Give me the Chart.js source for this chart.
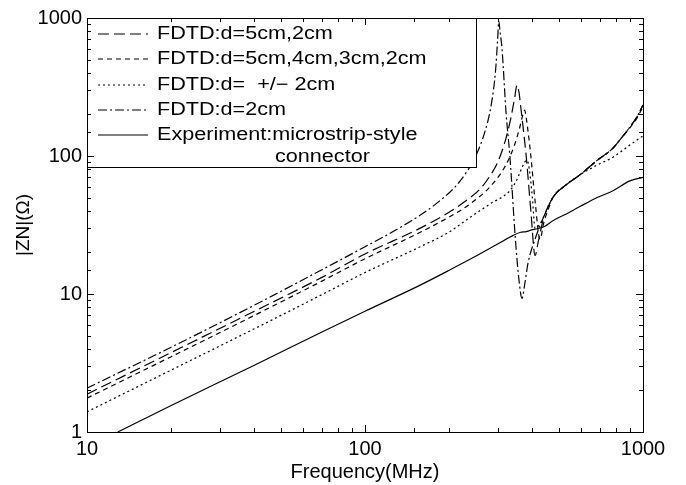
<!DOCTYPE html>
<html>
<head>
<meta charset="utf-8">
<script src="https://cdn.jsdelivr.net/npm/chart.js@4"></script>
<style>
  body { margin: 0; background: #fff; }
  #wrap { width: 686px; height: 485px; }
</style>
</head>
<body>
<div id="wrap"><canvas id="zChart"></canvas></div>
<script>
// d=2cm (dash-dot)
const freqDD = [10, 20, 40, 70, 100, 140, 180, 220, 250, 270, 285, 295, 300, 303, 306, 311, 322, 332, 347, 358, 367, 376, 386, 409, 444, 474, 530, 593, 684, 780, 826, 897, 951, 1000];
const zDD = [2.08, 4.1, 8.3, 15, 22, 32, 45, 66, 100, 150, 240, 420, 700, 950, 800, 600, 200, 100, 26, 12.6, 9.3, 12, 16.8, 25, 38, 50, 62, 73, 93, 114, 131, 162, 192, 234];

// d=5cm,2cm (long dash)
const freqLD = [10, 20, 40, 70, 100, 158, 200, 239, 260, 282, 300, 320, 335, 345, 352, 358, 363, 372, 380, 395, 409, 420, 435, 444, 474, 530, 593, 684, 780, 826, 897, 951, 1000];
const zLD = [1.88, 3.75, 7.5, 13.2, 19.5, 30, 39, 50, 58, 72, 90, 130, 190, 260, 325, 290, 230, 150, 100, 40, 19, 24, 33, 38, 50, 62, 73, 93, 114, 131, 162, 192, 234];

// d=5cm,4cm,3cm,2cm (short dash)
const freqSD = [10, 20, 40, 70, 100, 158, 200, 239, 282, 320, 345, 360, 370, 375, 380, 386, 395, 410, 426, 440, 460, 474, 530, 593, 684, 780, 826, 897, 951, 1000];
const zSD = [1.76, 3.5, 7.0, 12.4, 18, 28, 36, 45, 60, 85, 120, 160, 200, 215, 190, 150, 100, 45, 25, 33, 43, 50, 62, 73, 93, 114, 131, 160, 188, 228];

// d= +/-2cm (dotted)
const freqDT = [10, 20, 40, 70, 100, 158, 200, 239, 282, 332, 350, 365, 375, 383, 390, 400, 409, 425, 444, 474, 530, 593, 684, 780, 897, 1000];
const zDT = [1.40, 2.8, 5.6, 9.9, 14.3, 22, 28, 36, 45, 56, 66, 80, 90, 93, 80, 50, 30, 32, 38, 50, 62, 73, 86, 98, 120, 140];

// experiment (solid)
const freqEX = [12.9, 20, 40, 70, 100, 158, 200, 250, 300, 340, 363, 380, 395, 409, 444, 474, 530, 593, 684, 780, 897, 1000];
const zEX = [1, 1.55, 3.05, 5.3, 7.5, 11.6, 14.8, 18.8, 23, 26.5, 28, 28.3, 29, 29.5, 31, 34, 38, 43, 50, 56, 66, 70];

const xTickLabels = [10, 100, 1000];
const yTickLabels = [1, 10, 100, 1000];

const FONT = "'Liberation Sans', Arial, sans-serif";

function pts(fs, zs) {
    return fs.map((f, i) => ({ x: f, y: zs[i] }));
}

function ds(label, fs, zs, dash) {
    return {
        label: label,
        data: pts(fs, zs),
        borderColor: "#000",
        borderWidth: 1.2,
        borderDash: dash,
        pointRadius: 0,
        fill: false,
        cubicInterpolationMode: "monotone"
    };
}

// inward ticks on all four sides + frame
const frameTicks = {
    id: "frameTicks",
    afterDraw(chart) {
        const ctx = chart.ctx;
        const a = chart.chartArea;
        const xs = chart.scales.x, ys = chart.scales.y;
        const isMajor = v => Math.abs(Math.log10(v) - Math.round(Math.log10(v))) < 1e-6;
        ctx.save();
        ctx.strokeStyle = "#000";
        ctx.lineWidth = 1;
        ctx.setLineDash([]);
        ctx.beginPath();
        xs.ticks.forEach(t => {
            const px = Math.round(xs.getPixelForValue(t.value)) + 0.5;
            const len = isMajor(t.value) ? 7 : 4;
            ctx.moveTo(px, a.bottom); ctx.lineTo(px, a.bottom - len);
            ctx.moveTo(px, a.top); ctx.lineTo(px, a.top + len);
        });
        ys.ticks.forEach(t => {
            const py = Math.round(ys.getPixelForValue(t.value)) + 0.5;
            const len = isMajor(t.value) ? 7 : 4;
            ctx.moveTo(a.left, py); ctx.lineTo(a.left + len, py);
            ctx.moveTo(a.right, py); ctx.lineTo(a.right - len, py);
        });
        ctx.stroke();
        ctx.strokeRect(Math.round(a.left) + 0.5, Math.round(a.top) + 0.5,
            Math.round(a.right - a.left), Math.round(a.bottom - a.top));
        ctx.restore();
    }
};

// boxed legend in the upper left corner
const boxLegend = {
    id: "boxLegend",
    afterDatasetsDraw(chart) {
        const ctx = chart.ctx;
        const a = chart.chartArea;
        const left = Math.round(a.left) + 0.5, top = Math.round(a.top) + 0.5;
        const w = 389, h = 149;
        ctx.save();
        ctx.fillStyle = "#fff";
        ctx.fillRect(left, top, w, h);
        ctx.strokeStyle = "#000";
        ctx.lineWidth = 1;
        ctx.setLineDash([]);
        ctx.strokeRect(left, top, w, h);

        const rowY = [34, 59, 85, 110, 135];
        chart.data.datasets.forEach((d, i) => {
            const y = rowY[i];
            ctx.beginPath();
            ctx.setLineDash(d.borderDash || []);
            ctx.lineWidth = 1.2;
            ctx.moveTo(a.left + 11, y);
            ctx.lineTo(a.left + 61, y);
            ctx.stroke();
            ctx.setLineDash([]);
            ctx.fillStyle = "#000";
            ctx.font = "18px " + FONT;
            ctx.textBaseline = "middle";
            const lines = Array.isArray(d.label) ? d.label : [d.label];
            lines.forEach((s, j) => {
                ctx.save();
                ctx.translate(a.left + 70 + (j ? 118 : 0), y + j * 22);
                ctx.scale(1.2, 1);
                ctx.fillText(s, 0, 0);
                ctx.restore();
            });
        });
        ctx.restore();
    }
};

new Chart(document.getElementById("zChart"), {
    type: "line",
    data: {
        datasets: [
            ds("FDTD:d=5cm,2cm", freqLD, zLD, [11, 5]),
            ds("FDTD:d=5cm,4cm,3cm,2cm", freqSD, zSD, [5, 4]),
            ds("FDTD:d=  +/\u2212 2cm", freqDT, zDT, [2, 3]),
            ds("FDTD:d=2cm", freqDD, zDD, [9, 3, 2, 3]),
            ds(["Experiment:microstrip-style", "connector"], freqEX, zEX, [])
        ]
    },
    options: {
        responsive: true,
        maintainAspectRatio: false,
        animation: false,
        layout: { padding: { top: 18, right: 43, left: 0, bottom: 0 } },
        plugins: { legend: { display: false }, tooltip: { enabled: false } },
        scales: {
            x: {
                type: "logarithmic",
                min: 10,
                max: 1000,
                grid: { display: false, drawTicks: false },
                border: { display: false },
                ticks: {
                    autoSkip: false,
                    maxRotation: 0,
                    padding: 5,
                    color: "#000",
                    font: { family: FONT, size: 20 },
                    callback: v => xTickLabels.includes(v) ? String(v) : ""
                },
                title: {
                    display: true,
                    text: "Frequency(MHz)",
                    color: "#000",
                    font: { family: FONT, size: 20 },
                    padding: { top: 0, bottom: 1 }
                },
                afterFit: s => { s.height = 53; }
            },
            y: {
                type: "logarithmic",
                min: 1,
                max: 1000,
                grid: { display: false, drawTicks: false },
                border: { display: false },
                ticks: {
                    autoSkip: false,
                    padding: 5,
                    color: "#000",
                    font: { family: FONT, size: 20 },
                    callback: v => yTickLabels.includes(v) ? String(v) : ""
                },
                title: {
                    display: true,
                    text: "|ZN|(\u03A9)",
                    color: "#000",
                    font: { family: FONT, size: 19 },
                    padding: { top: 12, bottom: 0 }
                },
                afterFit: s => { s.width = 87; }
            }
        }
    },
    plugins: [boxLegend, frameTicks]
});
</script>
</body>
</html>
